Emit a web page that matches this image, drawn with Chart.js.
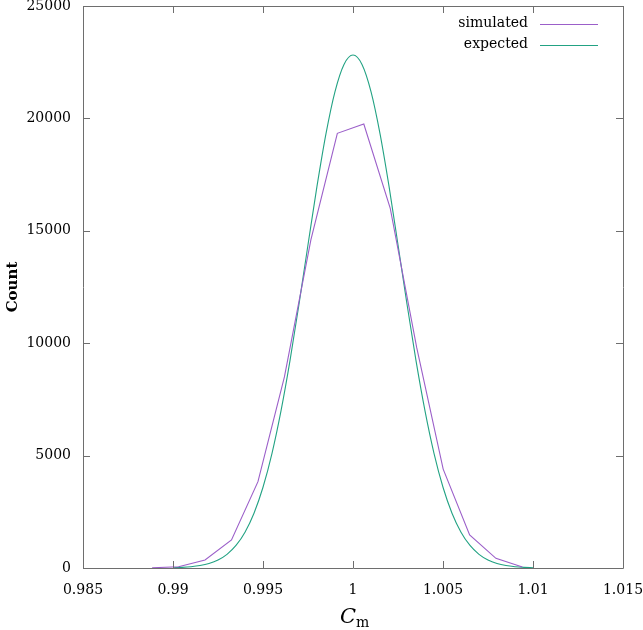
<!DOCTYPE html>
<html>
<head>
<meta charset="utf-8">
<script src="https://cdn.jsdelivr.net/npm/chart.js@4/dist/chart.umd.min.js"></script>
<style>
  html, body { margin: 0; padding: 0; background: #fff; }
  #wrap { width: 643px; height: 630px; position: relative; }
</style>
</head>
<body>
<div id="wrap"><canvas id="myChart"></canvas></div>
<script>
// valores
const simX = [0.98884, 0.99031, 0.99178, 0.99325, 0.99472, 0.99619, 0.99766, 0.99913,
              1.00060, 1.00207, 1.00354, 1.00501, 1.00648, 1.00794, 1.00941];
const simY = [10, 58, 356, 1245, 3840, 8500, 14600, 19335,
              19750, 16000, 9800, 4400, 1468, 431, 40];

const expX = [0.9900, 0.9905, 0.9910, 0.9915, 0.9920, 0.9925, 0.9930, 0.9935, 0.9940, 0.9945,
              0.9950, 0.9955, 0.9960, 0.9965, 0.9970, 0.9975, 0.9980, 0.9985, 0.9990, 0.9995,
              1.0000, 1.0005, 1.0010, 1.0015, 1.0020, 1.0025, 1.0030, 1.0035, 1.0040, 1.0045,
              1.0050, 1.0055, 1.0060, 1.0065, 1.0070, 1.0075, 1.0080, 1.0085, 1.0090, 1.0095,
              1.0100];
const expY = [14, 29, 57, 109, 201, 356, 609, 1003, 1593, 2437,
              3593, 5104, 6991, 9225, 11735, 14381, 16984, 19324, 21193, 22402,
              22820, 22402, 21193, 19324, 16984, 14381, 11735, 9225, 6991, 5104,
              3593, 2437, 1593, 1003, 609, 356, 201, 109, 57, 29,
              14];

const xTicks = [0.985, 0.99, 0.995, 1, 1.005, 1.01, 1.015];
const yTicks = [0, 5000, 10000, 15000, 20000, 25000];

const labels = ['simulated', 'expected'];
const cores = ['#9b5fc9', '#22a283'];

const fonte = 'DejaVu Serif';
const corEixo = '#6e6e6e';

// moldura com ticks para dentro (estilo gnuplot)
const molduraPlugin = {
    id: 'moldura',
    afterDraw(chart) {
        const { ctx, chartArea: a, scales } = chart;
        const L = 7;
        ctx.save();
        ctx.strokeStyle = corEixo;
        ctx.lineWidth = 1;
        ctx.beginPath();
        ctx.rect(Math.round(a.left) + 0.5, Math.round(a.top) + 0.5,
                 Math.round(a.right - a.left), Math.round(a.bottom - a.top));
        scales.x.ticks.forEach(t => {
            const px = Math.round(scales.x.getPixelForValue(t.value)) + 0.5;
            ctx.moveTo(px, a.bottom); ctx.lineTo(px, a.bottom - L);
            ctx.moveTo(px, a.top); ctx.lineTo(px, a.top + L);
        });
        scales.y.ticks.forEach(t => {
            const py = Math.round(scales.y.getPixelForValue(t.value)) + 0.5;
            ctx.moveTo(a.left, py); ctx.lineTo(a.left + L, py);
            ctx.moveTo(a.right, py); ctx.lineTo(a.right - L, py);
        });
        ctx.stroke();

        // legenda
        ctx.font = '14px "' + fonte + '"';
        ctx.textAlign = 'right';
        ctx.textBaseline = 'middle';
        chart.data.datasets.forEach((ds, i) => {
            const y = 23.5 + i * 21;
            ctx.fillStyle = '#000';
            ctx.fillText(ds.label, 528, y);
            ctx.strokeStyle = ds.borderColor;
            ctx.beginPath();
            ctx.moveTo(540, Math.round(y) + 0.5);
            ctx.lineTo(598, Math.round(y) + 0.5);
            ctx.stroke();
        });

        // títulos dos eixos
        ctx.fillStyle = '#000';
        ctx.textBaseline = 'alphabetic';
        const cx = (a.left + a.right) / 2;
        ctx.font = 'italic 21px "' + fonte + '"';
        ctx.textAlign = 'right';
        ctx.fillText('C', cx + 3, 623);
        ctx.font = '14px "' + fonte + '"';
        ctx.textAlign = 'left';
        ctx.fillText('m', cx + 3, 627);

        ctx.translate(13, (a.top + a.bottom) / 2);
        ctx.rotate(-Math.PI / 2);
        ctx.textAlign = 'center';
        ctx.textBaseline = 'middle';
        ctx.font = 'bold 15px "' + fonte + '"';
        ctx.fillText('Count', 0, 0);
        ctx.restore();
    }
};

const ctx = document.getElementById('myChart').getContext('2d');

const graph = new Chart(ctx, {
    type: 'line',
    data: {
        datasets: [
            {
                label: labels[0],
                data: simX.map((x, i) => ({ x: x, y: simY[i] })),
                borderColor: cores[0],
                borderWidth: 1.1,
                pointRadius: 0,
                tension: 0
            },
            {
                label: labels[1],
                data: expX.map((x, i) => ({ x: x, y: expY[i] })),
                borderColor: cores[1],
                borderWidth: 1.1,
                pointRadius: 0,
                cubicInterpolationMode: 'monotone'
            }
        ]
    },
    options: {
        responsive: true,
        maintainAspectRatio: false,
        animation: false,
        layout: {
            padding: { left: 0, right: 20, top: 6, bottom: 0 }
        },
        plugins: {
            legend: { display: false },
            tooltip: { enabled: false }
        },
        scales: {
            x: {
                type: 'linear',
                min: 0.985,
                max: 1.015,
                afterBuildTicks: s => { s.ticks = xTicks.map(v => ({ value: v })); },
                afterFit: s => { s.height = 62; s.paddingLeft = 0; s.paddingRight = 0; },
                grid: { display: false, drawTicks: false },
                border: { display: false },
                ticks: {
                    padding: 14,
                    color: '#000',
                    font: { family: fonte, size: 14 },
                    maxRotation: 0,
                    callback: v => String(v)
                }
            },
            y: {
                min: 0,
                max: 25000,
                afterBuildTicks: s => { s.ticks = yTicks.map(v => ({ value: v })); },
                afterFit: s => { s.width = 83; s.paddingTop = 0; s.paddingBottom = 0; },
                grid: { display: false, drawTicks: false },
                border: { display: false },
                ticks: {
                    padding: 12,
                    color: '#000',
                    font: { family: fonte, size: 14 },
                    callback: v => String(v)
                }
            }
        }
    },
    plugins: [molduraPlugin]
});
</script>
</body>
</html>
